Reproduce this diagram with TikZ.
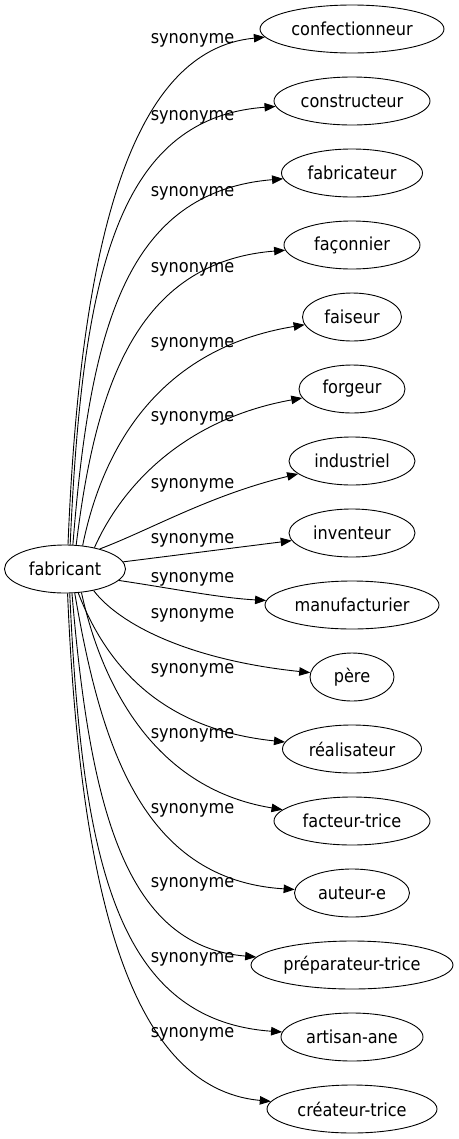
\documentclass[tikz,border=0pt]{standalone}
\usepackage{fontspec}
\setmainfont{DejaVu Sans}[FakeStretch=0.9]
\usetikzlibrary{shapes.geometric,arrows.meta}
\begin{document}
\begin{tikzpicture}[x=1bp,y=-1bp,
  word/.style={ellipse, draw, line width=0.9bp, inner sep=0pt, minimum height=48bp,
    font=\fontsize{18}{20}\selectfont},
  lbl/.style={inner sep=0pt, font=\fontsize{18}{20}\selectfont},
  rel/.style={line width=0.9bp, -{Triangle[length=11bp,width=8.5bp]}}]
\useasboundingbox (0,0) rectangle (459,1139);
% central node
\node[word, minimum width=121bp] (fab) at (65,569) {fabricant};
% targets
\node[word, minimum width=184bp] (n1) at (352,29) {confectionneur};
\node[word, minimum width=156bp] (n2) at (352,101) {constructeur};
\node[word, minimum width=141bp] (n3) at (352,173) {fabricateur};
\node[word, minimum width=136bp] (n4) at (352,245) {façonnier};
\node[word, minimum width=99bp] (n5) at (352,317) {faiseur};
\node[word, minimum width=106bp] (n6) at (352,389) {forgeur};
\node[word, minimum width=126bp] (n7) at (352,461) {industriel};
\node[word, minimum width=126bp] (n8) at (352,533) {inventeur};
\node[word, minimum width=174bp] (n9) at (352,605) {manufacturier};
\node[word, minimum width=84bp] (n10) at (352,677) {père};
\node[word, minimum width=139bp] (n11) at (352,749) {réalisateur};
\node[word, minimum width=156bp] (n12) at (352,821) {facteur-trice};
\node[word, minimum width=115bp] (n13) at (352,893) {auteur-e};
\node[word, minimum width=202bp] (n14) at (352,965) {préparateur-trice};
\node[word, minimum width=142bp] (n15) at (352,1037) {artisan-ane};
\node[word, minimum width=170bp] (n16) at (352,1109) {créateur-trice};
% labels
\node[lbl] (l1) at (192.5,40) {synonyme};
\node[lbl] (l2) at (192.5,117) {synonyme};
\node[lbl] (l3) at (192.5,193) {synonyme};
\node[lbl] (l4) at (192.5,269) {synonyme};
\node[lbl] (l5) at (192.5,344) {synonyme};
\node[lbl] (l6) at (192.5,418) {synonyme};
\node[lbl] (l7) at (192.5,485) {synonyme};
\node[lbl] (l8) at (192.5,540) {synonyme};
\node[lbl] (l9) at (192.5,579) {synonyme};
\node[lbl] (l10) at (192.5,615) {synonyme};
\node[lbl] (l11) at (192.5,670) {synonyme};
\node[lbl] (l12) at (192.5,735) {synonyme};
\node[lbl] (l13) at (192.5,810) {synonyme};
\node[lbl] (l14) at (192.5,884) {synonyme};
\node[lbl] (l15) at (192.5,959) {synonyme};
\node[lbl] (l16) at (192.5,1034) {synonyme};
% edges
\draw[rel] (fab.83) .. controls (80,250) and (128,50) .. (n1);
\draw[rel] (fab.78) .. controls (82,280) and (115,118) .. (n2);
\draw[rel] (fab.72) .. controls (90,330) and (125,192) .. (n3);
\draw[rel] (fab.65) .. controls (95,390) and (135,262) .. (n4);
\draw[rel] (fab.53) .. controls (100,460) and (150,350) .. (n5);
\draw[rel] (fab.36) .. controls (120,490) and (180,420) .. (n6);
\draw[rel] (fab.30) .. controls (150,530) and (210,495) .. (n7);
\draw[rel] (fab.7) -- (n8);
\draw[rel] (fab.-12) .. controls (170,588) and (220,598) .. (n9);
\draw[rel] (fab.-37) .. controls (120,625) and (190,660) .. (n10);
\draw[rel] (fab.-61) .. controls (110,675) and (170,730) .. (n11);
\draw[rel] (fab.-55) .. controls (100,678) and (150,788) .. (n12);
\draw[rel] (fab.-68) .. controls (100,740) and (140,880) .. (n13);
\draw[rel] (fab.-74) .. controls (90,808) and (125,946) .. (n14);
\draw[rel] (fab.-79) .. controls (82,858) and (115,1020) .. (n15);
\draw[rel] (fab.-84) .. controls (80,888) and (128,1088) .. (n16);
\end{tikzpicture}
\end{document}
